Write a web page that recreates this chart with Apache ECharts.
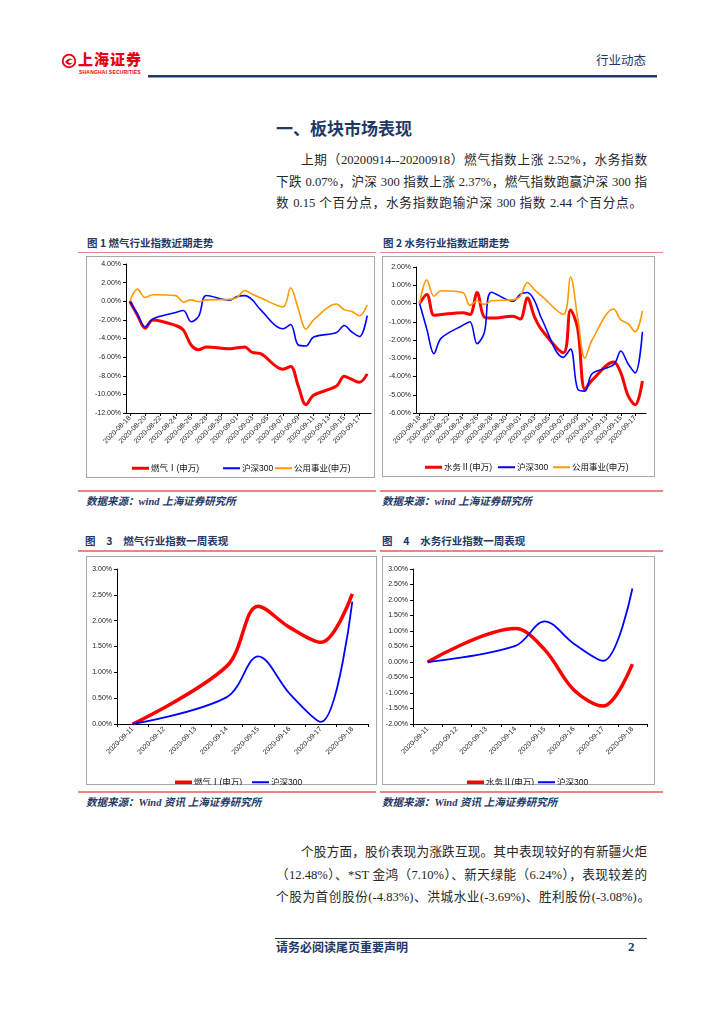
<!DOCTYPE html>
<html>
<head>
<meta charset="utf-8">
<script src="https://cdn.jsdelivr.net/npm/echarts@6/dist/echarts.min.js"></script>
<style>
  html,body{margin:0;padding:0;background:#fff;}
  #page{position:relative;width:724px;height:1024px;overflow:hidden;font-family:"Liberation Serif","Noto Sans CJK SC",serif;color:#222;}
  .abs{position:absolute;white-space:nowrap;}
  .navy{color:#1F3864;}
  .figt{font-family:"Noto Sans CJK SC",sans-serif;font-weight:700;font-size:10.5px;line-height:14px;color:#1F3864;}
  .src{font-family:"Liberation Serif","Noto Sans CJK SC",serif;font-weight:700;font-style:italic;font-size:10.5px;line-height:14px;color:#1F3864;}
  .rl{position:absolute;height:1.5px;background:#E98585;}
  .box{position:absolute;border:1px solid #A8A8A8;box-sizing:border-box;}
  .chart{position:absolute;}
  .jl{position:absolute;font-size:12.6px;line-height:20px;text-align:justify;text-align-last:justify;white-space:nowrap;color:#262626;}
</style>
</head>
<body>
<div id="page">
  <!-- header -->
  <svg class="abs" style="left:61px;top:53px" width="16" height="16" viewBox="0 0 16 16">
    <circle cx="8" cy="8" r="6.3" fill="none" stroke="#E60012" stroke-width="1.8"/>
    <path d="M4 9 Q8 3 12 7 Q9 6 7 9 Q9 11 12 10 Q8 14 4 9 Z" fill="#E60012"/>
  </svg>
  <div class="abs" style="left:78px;top:50px;font-family:'Noto Sans CJK SC';font-weight:900;font-size:15px;line-height:18px;color:#E60012;letter-spacing:1px;">上海证券</div>
  <div class="abs" style="left:79px;top:69px;font-family:'Liberation Sans';font-weight:700;font-size:5px;line-height:6px;color:#E60012;letter-spacing:0.2px;">SHANGHAI SECURITIES</div>
  <div class="abs navy" style="left:596px;top:52px;font-family:'Noto Sans CJK SC';font-size:12.5px;line-height:16px;">行业动态</div>
  <div class="abs" style="left:148px;top:75px;width:509px;height:2px;background:#1F3864;"></div>
  <div class="abs" style="left:148px;top:77px;width:509px;height:1px;background:#8C9AB5;"></div>

  <!-- section title -->
  <div class="abs navy" style="left:276px;top:117px;font-family:'Noto Sans CJK SC';font-weight:700;font-size:17px;line-height:22px;">一、板块市场表现</div>

  <div class="jl" style="left:301px;top:150px;width:346px;">上期（20200914--20200918）燃气指数上涨 2.52%，水务指数</div>
  <div class="jl" style="left:276px;top:172px;width:371px;">下跌 0.07%，沪深 300 指数上涨 2.37%，燃气指数跑赢沪深 300 指</div>
  <div class="jl" style="left:276px;top:193px;width:366px;">数 0.15 个百分点，水务指数跑输沪深 300 指数 2.44 个百分点。</div>

  <!-- figure 1/2 titles -->
  <div class="abs figt" style="left:87px;top:236px;">图 1 燃气行业指数近期走势</div>
  <div class="abs figt" style="left:383px;top:236px;">图 2 水务行业指数近期走势</div>
  <div class="rl" style="left:78px;top:251.5px;width:298px;"></div>
  <div class="rl" style="left:380px;top:251.5px;width:283px;"></div>

  <div class="box" style="left:86px;top:256px;width:289px;height:222px;"></div>
  <div class="box" style="left:382px;top:256px;width:273px;height:221px;"></div>
  <div id="c1" class="chart" style="left:86px;top:256px;width:289px;height:222px;"></div>
  <div id="c2" class="chart" style="left:382px;top:256px;width:273px;height:221px;"></div>

  <div class="rl" style="left:78px;top:490px;width:298px;"></div>
  <div class="rl" style="left:380px;top:490px;width:283px;"></div>
  <div class="abs src" style="left:86px;top:495px;">数据来源：wind 上海证券研究所</div>
  <div class="abs src" style="left:382px;top:495px;">数据来源：wind 上海证券研究所</div>

  <!-- figure 3/4 titles -->
  <div class="abs figt" style="left:85px;top:534px;word-spacing:3px;">图&nbsp; 3&nbsp; 燃气行业指数一周表现</div>
  <div class="abs figt" style="left:382px;top:534px;word-spacing:3px;">图&nbsp; 4&nbsp; 水务行业指数一周表现</div>
  <div class="rl" style="left:78px;top:550px;width:298px;"></div>
  <div class="rl" style="left:380px;top:550px;width:283px;"></div>

  <div class="box" style="left:86px;top:556px;width:291px;height:229px;"></div>
  <div class="box" style="left:382px;top:556px;width:273px;height:229px;"></div>
  <div id="c3" class="chart" style="left:86px;top:556px;width:291px;height:229px;"></div>
  <div id="c4" class="chart" style="left:382px;top:556px;width:273px;height:229px;"></div>

  <div class="rl" style="left:78px;top:791px;width:298px;"></div>
  <div class="rl" style="left:380px;top:791px;width:283px;"></div>
  <div class="abs src" style="left:86px;top:796px;">数据来源：Wind 资讯 上海证券研究所</div>
  <div class="abs src" style="left:382px;top:796px;">数据来源：Wind 资讯 上海证券研究所</div>

  <!-- paragraph 2 -->
  <div class="jl" style="left:301px;top:842px;width:346px;">个股方面，股价表现为涨跌互现。其中表现较好的有新疆火炬</div>
  <div class="jl" style="left:276px;top:865px;width:371px;">（12.48%）、*ST 金鸿（7.10%）、新天绿能（6.24%），表现较差的</div>
  <div class="jl" style="left:276px;top:887px;width:374px;">个股为首创股份(-4.83%)、洪城水业(-3.69%)、胜利股份(-3.08%)。</div>

  <!-- footer -->
  <div class="abs" style="left:275px;top:937.5px;width:372px;height:1.5px;background:#333;"></div>
  <div class="abs navy" style="left:276px;top:939px;font-family:'Noto Sans CJK SC';font-weight:700;font-size:12px;line-height:16px;">请务必阅读尾页重要声明</div>
  <div class="abs navy" style="left:628px;top:939px;font-family:'Liberation Serif';font-weight:700;font-size:13px;line-height:16px;">2</div>
</div>

<script>
// ---------- data ----------
const monthAxisDates = ['2020-08-18','2020-08-19','2020-08-20','2020-08-21','2020-08-22','2020-08-23','2020-08-24','2020-08-25','2020-08-26','2020-08-27','2020-08-28','2020-08-29','2020-08-30','2020-08-31','2020-09-01','2020-09-02','2020-09-03','2020-09-04','2020-09-05','2020-09-06','2020-09-07','2020-09-08','2020-09-09','2020-09-10','2020-09-11','2020-09-12','2020-09-13','2020-09-14','2020-09-15','2020-09-16','2020-09-17','2020-09-18'];
const monthTradeDates = ['2020-08-18','2020-08-19','2020-08-20','2020-08-21','2020-08-24','2020-08-25','2020-08-26','2020-08-27','2020-08-28','2020-08-31','2020-09-01','2020-09-02','2020-09-03','2020-09-04','2020-09-07','2020-09-08','2020-09-09','2020-09-10','2020-09-11','2020-09-14','2020-09-15','2020-09-16','2020-09-17','2020-09-18'];
const gasMonth   = [0, -1.5, -2.9, -2.0, -2.6, -3.1, -4.7, -5.2, -4.9, -5.1, -5.0, -4.9, -5.5, -5.6, -7.3, -7.0, -9.1, -11.1, -10.1, -9.1, -8.05, -8.4, -8.7, -7.8];
const hs300Month = [0, -1.4, -2.75, -1.9, -1.2, -1.0, -2.2, -1.6, 0.62, 0.12, 0.5, 0.6, 0.15, -0.85, -2.95, -2.5, -4.7, -4.8, -3.85, -3.35, -2.6, -3.3, -3.8, -1.55];
const utilMonth  = [0, 1.3, 0.4, 0.7, 0.6, -0.1, 0.15, -0.05, 0.15, 0.2, 0.4, 1.15, 0.75, 0.4, -0.6, 1.45, -0.8, -3.0, -2.0, -0.3, -0.9, -1.1, -1.55, -0.4];
const waterMonth = [0, 0.5, -0.65, -0.6, -0.5, -0.6, 0.6, -0.75, -0.8, -0.7, -0.85, 0.3, -0.75, -1.45, -2.7, -0.35, -1.4, -4.7, -4.2, -3.2, -3.8, -5.05, -5.55, -4.25];

const weekAxisDates  = ['2020-09-11','2020-09-12','2020-09-13','2020-09-14','2020-09-15','2020-09-16','2020-09-17','2020-09-18'];
const weekTradeDates = ['2020-09-11','2020-09-14','2020-09-15','2020-09-16','2020-09-17','2020-09-18'];
const gasWeek   = [0, 1.12, 2.28, 1.87, 1.58, 2.52];
const hs300Week = [0, 0.52, 1.31, 0.59, 0.04, 2.37];
const waterWeek = [0, 1.08, 0.40, -0.90, -1.42, -0.07];

const nameGas = '燃气Ⅰ(申万)';
const nameWater = '水务Ⅱ(申万)';
const nameHs = '沪深300';
const nameUtil = '公用事业(申万)';

const yAxis1 = {min: -12, max: 4, interval: 2};
const yAxis2 = {min: -6, max: 2, interval: 1};
const yAxis3 = {min: 0, max: 3, interval: 0.5};
const yAxis4 = {min: -2, max: 3, interval: 0.5};

// ---------- helpers ----------
function align(axisDates, tradeDates, values) {
  return axisDates.map(d => { const i = tradeDates.indexOf(d); return i < 0 ? null : values[i]; });
}
const RED = '#FF0000', BLUE = '#0000FF', ORANGE = '#FF9900';
const FONT = '"Liberation Sans","Noto Sans CJK SC",sans-serif';

function makeSeries(name, data, color, width) {
  return {name, type: 'line', data, smooth: 0.35, connectNulls: true, symbol: 'none',
    lineStyle: {color, width}, itemStyle: {color}, emphasis: {disabled: true}, animation: false};
}
function makeLegend(name, left, top, h) {
  return {data: [name], left, top, icon: 'rect', itemWidth: 17, itemHeight: h,
    textStyle: {fontSize: 8.5, color: '#111', fontFamily: FONT, padding: [0,0,0,-3]}, selectedMode: false};
}
function buildOption(cfg) {
  return {
    animation: false,
    textStyle: {fontFamily: FONT},
    grid: Object.assign({containLabel: false, outerBoundsMode: 'none'}, cfg.grid),
    xAxis: {
      type: 'category', data: cfg.cats, boundaryGap: true,
      axisLine: {onZero: false, lineStyle: {color: '#000', width: 1}},
      axisTick: {show: true, length: 3, alignWithLabel: cfg.tickAlign, interval: cfg.labelInterval, lineStyle: {color: '#000'}},
      axisLabel: {rotate: 45, fontSize: 7, color: '#222', margin: 4, interval: cfg.labelInterval, fontFamily: FONT},
      splitLine: {show: false}
    },
    yAxis: {
      type: 'value', min: cfg.y.min, max: cfg.y.max, interval: cfg.y.interval,
      axisLine: {show: true, lineStyle: {color: '#000', width: 1}},
      axisTick: {show: true, length: 3, lineStyle: {color: '#000'}},
      axisLabel: {fontSize: 7, color: '#222', margin: 5, fontFamily: FONT, formatter: v => v.toFixed(2) + '%'},
      splitLine: {show: false}
    },
    legend: cfg.legends,
    series: cfg.series
  };
}

// ---------- chart 1 ----------
echarts.init(document.getElementById('c1')).setOption(buildOption({
  cats: monthAxisDates, labelInterval: 1, tickAlign: true, y: yAxis1,
  grid: {left: 40, right: 4, top: 8, bottom: 65},
  legends: [makeLegend(nameGas, 41, 203, 3), makeLegend(nameHs, 132, 203, 2), makeLegend(nameUtil, 184, 203, 2)],
  series: [
    makeSeries(nameGas, align(monthAxisDates, monthTradeDates, gasMonth), RED, 3),
    makeSeries(nameHs, align(monthAxisDates, monthTradeDates, hs300Month), BLUE, 1.6),
    makeSeries(nameUtil, align(monthAxisDates, monthTradeDates, utilMonth), ORANGE, 1.6)
  ]
}));

// ---------- chart 2 ----------
echarts.init(document.getElementById('c2')).setOption(buildOption({
  cats: monthAxisDates, labelInterval: 1, tickAlign: true, y: yAxis2,
  grid: {left: 34, right: 9, top: 11, bottom: 64},
  legends: [makeLegend(nameWater, 38, 202, 3), makeLegend(nameHs, 111, 202, 2), makeLegend(nameUtil, 166, 202, 2)],
  series: [
    makeSeries(nameWater, align(monthAxisDates, monthTradeDates, waterMonth), RED, 3),
    makeSeries(nameHs, align(monthAxisDates, monthTradeDates, hs300Month), BLUE, 1.6),
    makeSeries(nameUtil, align(monthAxisDates, monthTradeDates, utilMonth), ORANGE, 1.6)
  ]
}));

// ---------- chart 3 ----------
echarts.init(document.getElementById('c3')).setOption(buildOption({
  cats: weekAxisDates, labelInterval: 0, tickAlign: false, y: yAxis3,
  grid: {left: 31, right: 9, top: 13, bottom: 61},
  legends: [makeLegend(nameGas, 84, 217, 3.5), makeLegend(nameHs, 161, 217, 2)],
  series: [
    makeSeries(nameGas, align(weekAxisDates, weekTradeDates, gasWeek), RED, 3.5),
    makeSeries(nameHs, align(weekAxisDates, weekTradeDates, hs300Week), BLUE, 1.8)
  ]
}));

// ---------- chart 4 ----------
echarts.init(document.getElementById('c4')).setOption(buildOption({
  cats: weekAxisDates, labelInterval: 0, tickAlign: false, y: yAxis4,
  grid: {left: 31, right: 8, top: 13, bottom: 61},
  legends: [makeLegend(nameWater, 80, 217, 3.5), makeLegend(nameHs, 151, 217, 2)],
  series: [
    makeSeries(nameWater, align(weekAxisDates, weekTradeDates, waterWeek), RED, 3.5),
    makeSeries(nameHs, align(weekAxisDates, weekTradeDates, hs300Week), BLUE, 1.8)
  ]
}));
</script>
</body>
</html>
